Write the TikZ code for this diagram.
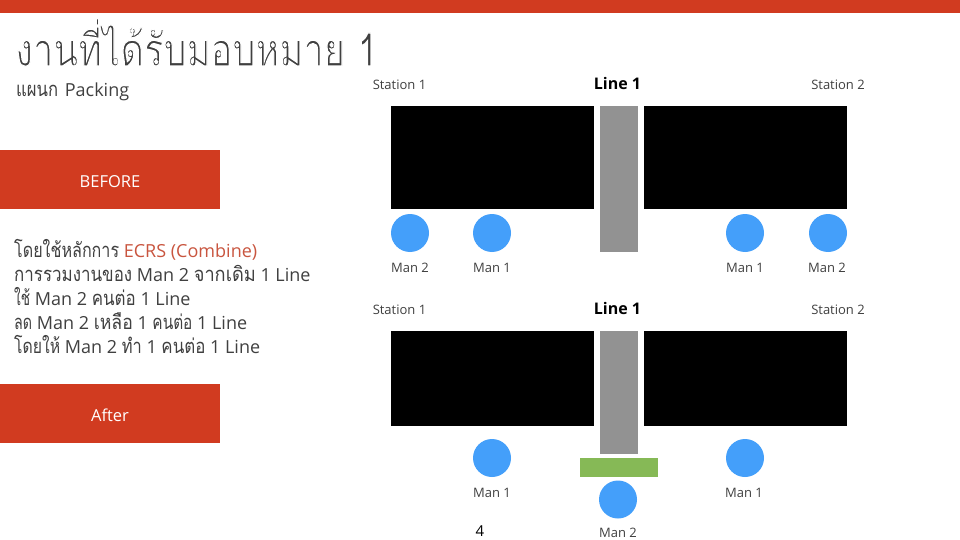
\documentclass[tikz,border=0pt]{standalone}
\usepackage{fontspec}
\usepackage{graphicx}
\setmainfont{Open Sans}
\newfontfamily\thaifont[Script=Thai]{Loma}
\newfontfamily\titlefont[Script=Thai,FakeStretch=0.79]{Loma}
\newcommand{\tw}[2]{\resizebox{#1pt}{1.12\height}{\thaifont #2}}
\newcommand{\thinstart}{\special{pdf:code 2 Tr 1 1 1 RG 1.15 w}}
\newcommand{\thinend}{\special{pdf:code 0 Tr 0 0 0 RG 1 w}}
\definecolor{brick}{HTML}{D13B20}
\definecolor{ecrs}{HTML}{C9553F}
\definecolor{manblue}{HTML}{449FFA}
\definecolor{beltgrey}{HTML}{929292}
\definecolor{tablegreen}{HTML}{86B956}
\definecolor{txt}{HTML}{404040}
\tikzset{
  x=1pt,y=-1pt,
  block/.style={fill=black,draw=none,minimum width=203pt,minimum height=#1,inner sep=0,outer sep=0},
  block/.default=103pt,
  belt/.style={fill=beltgrey,draw=none,minimum width=38pt,minimum height=#1,inner sep=0},
  man/.style={circle,fill=manblue,draw=none,minimum size=38pt,inner sep=0},
  lab/.style={font=\fontsize{13}{15}\selectfont,text=txt,inner sep=0,anchor=center},
  head/.style={font=\fontsize{16}{18}\selectfont\bfseries,text=black,inner sep=0,anchor=center},
  banner/.style={fill=brick,draw=none,minimum width=220pt,minimum height=59pt,inner sep=0,text=white,font=\fontsize{16.5}{18}\selectfont},
  bodytext/.style={anchor=base west,inner sep=0,text=txt,font=\fontsize{18}{20}\selectfont},
}
\begin{document}
\begin{tikzpicture}
\useasboundingbox (0,0) rectangle (960,540);
\fill[white] (0,0) rectangle (960,540);
\node[fill=brick,minimum width=960pt,minimum height=13pt,inner sep=0] (topbar) at (480,6.5) {};
\node[anchor=base west,inner sep=0,text=txt,font=\fontsize{46}{50}\selectfont\titlefont] (title) at (15,66) {\thinstart งานที่ได้รับมอบหมาย 1\thinend};
\node[bodytext] (sub) at (16,97) {\tw{42}{แผนก}\hspace{2pt} Packing};
\node[banner] (before) at (110,179.5) {\raisebox{-7.5pt}[0pt][0pt]{BEFORE}};
\node[banner] (after) at (110,413.5) {\raisebox{-7.5pt}[0pt][0pt]{After}};
\node[bodytext] (l1) at (14,257) {\tw{105}{โดยใช้หลักการ} \textcolor{ecrs}{ECRS (Combine)}};
\node[bodytext] (l2) at (14,281) {\tw{118}{การรวมงานของ} Man 2 \tw{62}{จากเดิม} 1 Line};
\node[bodytext] (l3) at (14,305) {\tw{16}{ใช้} Man 2 \tw{44}{คนต่อ} 1 Line};
\node[bodytext] (l4) at (14,329) {\tw{18}{ลด} Man 2 \tw{39}{เหลือ} 1 \tw{40}{คนต่อ} 1 Line};
\node[bodytext] (l5) at (14,353) {\tw{46}{โดยให้} Man 2 \tw{20}{ทำ} 1 \tw{44}{คนต่อ} 1 Line};
% upper
\node[lab] (s1a) at (399.5,84.5) {Station 1};
\node[head] (l1a) at (617.5,83.5) {Line 1};
\node[lab] (s2a) at (838,84.5) {Station 2};
\node[block] (b1a) at (492.5,157.5) {};
\node[block] (b2a) at (745.5,157.5) {};
\node[belt=146pt] (ba) at (619,179) {};
\node[man] (m1) at (410,233) {};
\node[man] (m2) at (492,233) {};
\node[man] (m3) at (745,233) {};
\node[man] (m4) at (828,233) {};
\node[lab] (t1) at (410,267.5) {Man 2};
\node[lab] (t2) at (492,267.5) {Man 1};
\node[lab] (t3) at (745,267.5) {Man 1};
\node[lab] (t4) at (827,267.5) {Man 2};
% lower
\node[lab] (s1b) at (399.5,309.5) {Station 1};
\node[head] (l1b) at (617.5,308.5) {Line 1};
\node[lab] (s2b) at (838,309.5) {Station 2};
\node[block=95.5pt] (b1b) at (492.5,378.5) {};
\node[block=95.5pt] (b2b) at (745.5,378.5) {};
\node[belt=123pt] (bb) at (619,392.5) {};
\node[fill=tablegreen,minimum width=78pt,minimum height=19pt,inner sep=0] (tbl) at (619,467.5) {};
\node[man] (m5) at (492,458) {};
\node[man] (m6) at (618,499.5) {};
\node[man] (m7) at (745,458) {};
\node[lab] (t5) at (492,492.5) {Man 1};
\node[lab] (t6) at (618,533) {Man 2};
\node[lab] (t7) at (744,492.5) {Man 1};
\node[lab,text=black,font=\fontsize{15}{17}\selectfont] (pg) at (480,531) {4};
\end{tikzpicture}
\end{document}
